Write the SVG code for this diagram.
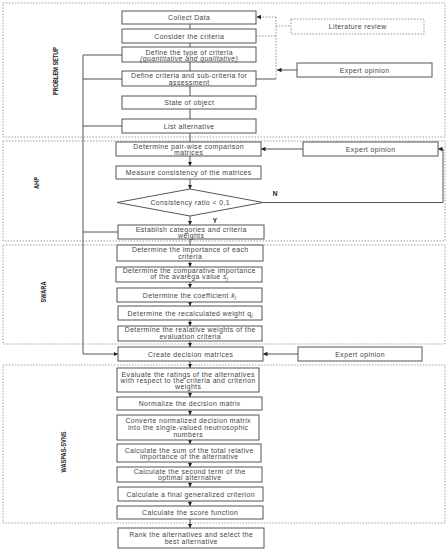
<svg xmlns="http://www.w3.org/2000/svg" width="447" height="550" viewBox="0 0 447 550">
<style>
.bx{fill:#fff;stroke:#555;stroke-width:1}
.sec{fill:none;stroke:#888;stroke-width:0.8;stroke-dasharray:1.5,1.5}
.dl{fill:none;stroke:#777;stroke-width:0.8;stroke-dasharray:1.5,1.5}
.ln{fill:none;stroke:#555;stroke-width:1}
.t{font-family:"Liberation Sans",Arial,sans-serif;font-size:6.9px;letter-spacing:0.4px;fill:#444;text-anchor:middle}
.lb{font-family:"Liberation Sans",Arial,sans-serif;font-size:7px;font-weight:bold;fill:#222;text-anchor:middle}
.yn{font-family:"Liberation Sans",Arial,sans-serif;font-size:6.5px;font-weight:bold;fill:#222;text-anchor:middle}
</style>
<defs>
<marker id="ah" viewBox="0 0 6 6" refX="6" refY="3" markerWidth="4.5" markerHeight="4.5" markerUnits="userSpaceOnUse" orient="auto">
<path d="M0,0 L6,3 L0,6 z" fill="#222"/>
</marker>
</defs>
<rect width="447" height="550" fill="#fff"/>

<g id="sections">
<rect class="sec" x="3" y="3" width="442" height="134"/>
<rect class="sec" x="3" y="141" width="442" height="100"/>
<rect class="sec" x="3" y="245" width="442" height="99"/>
<rect class="sec" x="3" y="365" width="442" height="158"/>
<text class="lb" transform="translate(58,71) rotate(-90)" textLength="48" lengthAdjust="spacingAndGlyphs">PROBLEM SETUP</text>
<text class="lb" transform="translate(38.5,183) rotate(-90)" textLength="12" lengthAdjust="spacingAndGlyphs">AHP</text>
<text class="lb" transform="translate(45.5,292) rotate(-90)" textLength="21" lengthAdjust="spacingAndGlyphs">SWARA</text>
<text class="lb" transform="translate(65.5,452) rotate(-90)" textLength="41" lengthAdjust="spacingAndGlyphs">WASPAS-SVNS</text>
</g>

<g id="connectors">
<path class="ln" d="M190,24V29 M190,43V47 M190,62V71 M190,86V96 M190,109V119 M190,133V142"/>
<path class="ln" d="M190,156V166" marker-end="url(#ah)"/>
<path class="ln" d="M190,179V189" marker-end="url(#ah)"/>
<path class="ln" d="M190,216V225" marker-end="url(#ah)"/>
<path class="ln" d="M190,239V245"/>
<path class="ln" d="M190,261V267" marker-end="url(#ah)"/>
<path class="ln" d="M190,282V288" marker-end="url(#ah)"/>
<path class="ln" d="M190,302V306" marker-end="url(#ah)"/>
<path class="ln" d="M190,320V326" marker-end="url(#ah)"/>
<path class="ln" d="M190,341V347" marker-end="url(#ah)"/>
<path class="ln" d="M190,361V368" marker-end="url(#ah)"/>
<path class="ln" d="M190,392V397" marker-end="url(#ah)"/>
<path class="ln" d="M190,410V415" marker-end="url(#ah)"/>
<path class="ln" d="M190,440V444" marker-end="url(#ah)"/>
<path class="ln" d="M190,462V467" marker-end="url(#ah)"/>
<path class="ln" d="M190,482V487" marker-end="url(#ah)"/>
<path class="ln" d="M190,501V506" marker-end="url(#ah)"/>
<path class="ln" d="M190,519V528" marker-end="url(#ah)"/>
<path class="ln" d="M122,55H83V354 M83,79H122 M83,126H122 M83,232H118"/>
<path class="ln" d="M83,354H118" marker-end="url(#ah)"/>
<path class="dl" d="M276,17H256.5" marker-end="url(#ah)"/>
<path class="dl" d="M256,36H276 M276,17V79 M276,26H291"/>
<path class="ln" d="M256,79H276"/>
<path class="ln" d="M297,70H277" marker-end="url(#ah)"/>
<path class="ln" d="M303,149H261" marker-end="url(#ah)"/>
<path class="ln" d="M263,202.5H443V149H438" marker-end="url(#ah)"/>
<path class="ln" d="M298,354H263" marker-end="url(#ah)"/>
<text class="yn" x="275" y="196">N</text>
<text class="yn" x="215" y="223">Y</text>
</g>

<g id="n-collect"><rect class="bx" x="122" y="11" width="134" height="13"/><text class="t" x="189.2" y="20">Collect Data</text></g>
<g id="n-consider"><rect class="bx" x="122" y="29" width="134" height="14"/><text class="t" x="189.2" y="38.5">Consider the criteria</text></g>
<g id="n-type"><rect class="bx" x="122" y="47" width="134" height="15"/><text class="t" x="189.2" y="54.5">Define the type of criteria</text><text class="t" x="189.2" y="61" font-style="italic">(quantitative and qualitative)</text></g>
<g id="n-define"><rect class="bx" x="122" y="71" width="134" height="15"/><text class="t" x="189.2" y="77.5">Define criteria and sub-criteria for</text><text class="t" x="189.2" y="84.5">assessment</text></g>
<g id="n-state"><rect class="bx" x="122" y="96" width="134" height="13"/><text class="t" x="189.2" y="105">State of object</text></g>
<g id="n-list"><rect class="bx" x="122" y="119" width="134" height="14"/><text class="t" x="189.2" y="128.5">List alternative</text></g>
<g id="n-lit"><rect class="dl" x="291" y="19" width="133" height="15"/><text class="t" x="357.7" y="29">Literature review</text></g>
<g id="n-exp1"><rect class="bx" x="297" y="63" width="135" height="14"/><text class="t" x="364.7" y="72.5">Expert opinion</text></g>

<g id="n-pair"><rect class="bx" x="116" y="142" width="145" height="14"/><text class="t" x="188.7" y="148.5">Determine pair-wise comparison</text><text class="t" x="188.7" y="155.2">matrices</text></g>
<g id="n-exp2"><rect class="bx" x="303" y="142" width="135" height="14"/><text class="t" x="370.7" y="151.5">Expert opinion</text></g>
<g id="n-measure"><rect class="bx" x="116" y="166" width="145" height="13"/><text class="t" x="188.7" y="175">Measure consistency of the matrices</text></g>
<g id="n-ratio"><polygon class="bx" points="117,202.5 190,189 263,202.5 190,216"/><text class="t" x="190.2" y="205">Consistency ratio &lt; 0,1</text></g>
<g id="n-establish"><rect class="bx" x="118" y="225" width="146" height="14"/><text class="t" x="191.2" y="231.5">Establish categories and criteria</text><text class="t" x="191.2" y="238.2">weights</text></g>

<g id="n-importance"><rect class="bx" x="117" y="245" width="146" height="16"/><text class="t" x="190.2" y="251.8">Determine the importance of each</text><text class="t" x="190.2" y="258.5">criteria</text></g>
<g id="n-comparative"><rect class="bx" x="116" y="267" width="146" height="15"/><text class="t" x="189.2" y="273.2">Determine the comparative importance</text><text class="t" x="189.2" y="279.2">of the avarega value <tspan font-style="italic">s</tspan><tspan font-style="italic" font-size="5px" dy="1.5">j</tspan></text></g>
<g id="n-coef"><rect class="bx" x="117" y="288" width="145" height="14"/><text class="t" x="189.7" y="297.5">Determine the coefficient <tspan font-style="italic">k</tspan><tspan font-style="italic" font-size="5px" dy="1.5">j</tspan></text></g>
<g id="n-recalc"><rect class="bx" x="118" y="306" width="144" height="14"/><text class="t" x="190.2" y="315.5">Determine the recalculated weight q<tspan font-size="5px" dy="1.5">j</tspan></text></g>
<g id="n-relative"><rect class="bx" x="118" y="326" width="144" height="15"/><text class="t" x="190.2" y="331.8">Determine the realative weights of the</text><text class="t" x="190.2" y="338.5">evaluation criteria</text></g>

<g id="n-create"><rect class="bx" x="118" y="347" width="145" height="14"/><text class="t" x="190.7" y="356.5">Create decision matrices</text></g>
<g id="n-exp3"><rect class="bx" x="298" y="347" width="124" height="14"/><text class="t" x="360.2" y="356.5">Expert opinion</text></g>

<g id="n-evaluate"><rect class="bx" x="117" y="368" width="142" height="24"/><text class="t" x="188.2" y="376.5">Evaluate the ratings of the alternatives</text><text class="t" x="188.2" y="382.8">with respect to the criteria and criterion</text><text class="t" x="188.2" y="389.2">weights</text></g>
<g id="n-normalize"><rect class="bx" x="117" y="397" width="145" height="13"/><text class="t" x="189.7" y="406">Normalize the decision matrix</text></g>
<g id="n-converte"><rect class="bx" x="117" y="415" width="142" height="25"/><text class="t" x="188.2" y="423.2">Converte normalized decision matrix</text><text class="t" x="188.2" y="429.8">into the single-valued neutrosophic</text><text class="t" x="188.2" y="436.5">numbers</text></g>
<g id="n-sum"><rect class="bx" x="117" y="444" width="144" height="18"/><text class="t" x="189.2" y="452.5">Calculate the sum of the total relative</text><text class="t" x="189.2" y="459.2">importance of the alternative</text></g>
<g id="n-second"><rect class="bx" x="117" y="467" width="145" height="15"/><text class="t" x="189.7" y="473.5">Calculate the second term of the</text><text class="t" x="189.7" y="479.8">optimal alternative</text></g>
<g id="n-final"><rect class="bx" x="118" y="487" width="145" height="14"/><text class="t" x="190.7" y="496.5">Calculate a final generalized criterion</text></g>
<g id="n-score"><rect class="bx" x="117" y="506" width="146" height="13"/><text class="t" x="190.2" y="515">Calculate the score function</text></g>
<g id="n-rank"><rect class="bx" x="118" y="528" width="146" height="20"/><text class="t" x="191.2" y="536.8">Rank the alternatives and select the</text><text class="t" x="191.2" y="544.2">best alternative</text></g>
</svg>
